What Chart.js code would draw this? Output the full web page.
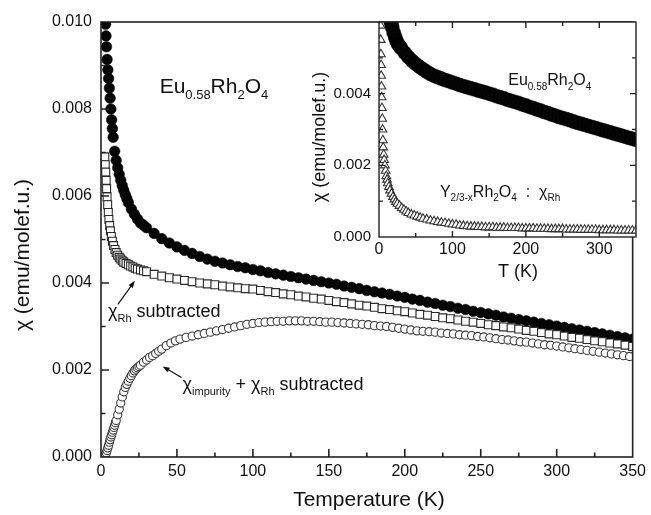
<!DOCTYPE html>
<html><head><meta charset="utf-8">
<script src="https://cdn.jsdelivr.net/npm/chart.js@4"></script>
<style>
html,body{margin:0;padding:0;background:#fff;}
#wrap{position:relative;width:651px;height:515px;background:#fff;}
#main{position:absolute;left:0;top:0;}
#inset{position:absolute;left:300px;top:0;}
</style></head><body>
<div id="wrap"><canvas id="main" width="651" height="515"></canvas><canvas id="inset" width="351" height="290"></canvas></div>
<script>
const FONT = '"Liberation Sans", Arial, Helvetica, sans-serif';

// ---- Eu0.58Rh2O4 (filled circles) ----
const euT = [3,3.3,3.6,4,4.5,5,5.5,6,6.5,7,7.5,8,9,10,11,12,13,14,15,16,17,18,20,22,24,26,28,30,
  35,40,45,50,55,60,65,70,75,80,85,90,95,100,105,110,115,120,125,130,135,140,145,150,155,160,165,170,175,180,
  185,190,195,200,205,210,215,220,225,230,235,240,245,250,255,260,265,270,275,280,285,290,295,300,305,310,315,320,
  325,330,335,340,345,350];
const euChi = [0.00995,0.00968,0.00943,0.00914,0.0089,0.0087,0.00848,0.00825,0.008,0.00775,0.00755,0.00735,0.00703,0.00682,0.00665,0.0065,0.00636,0.00624,0.00613,0.00603,0.00594,0.00585,0.0057,0.00558,0.00547,0.00538,0.00533,0.00527,
  0.00514,0.00502,0.00492,0.00483,0.00475,0.00468,0.00461,0.00455,0.0045,0.00446,0.00442,0.00438,0.00435,0.00431,0.00428,0.00424,0.00421,0.00418,0.00415,0.00412,0.00409,0.00406,0.00403,0.004,0.00397,0.00393,0.0039,0.00387,0.00383,0.0038,
  0.00377,0.00374,0.0037,0.00367,0.00363,0.0036,0.00356,0.00353,0.00349,0.00346,0.00342,0.00339,0.00335,0.00332,0.00329,0.00326,0.00322,0.00319,0.00316,0.00313,0.0031,0.00307,0.00304,0.00301,0.00298,0.00295,0.00292,0.00289,
  0.00286,0.00283,0.0028,0.00277,0.00274,0.00271];

// ---- chi_Rh subtracted (open squares) ----
const rhSubT = [2.5,2.8,3.1,3.4,3.7,4.0,4.4,4.8,5.2,5.7,6.2,6.8,7.5,8.3,9.2,10,11,12,13,14,15,16.5,18,19.5,21,22.5,24,26,28,30,
  35,40,45,50,55,60,65,70,75,80,85,90,95,100,105,110,115,120,125,130,135,140,145,150,155,160,165,170,175,180,
  185,190,195,200,205,210,215,220,225,230,235,240,245,250,255,260,265,270,275,280,285,290,295,300,305,310,315,320,
  325,330,335,340,345,350];
const rhSubChi = [0.0069,0.00672,0.00655,0.00636,0.00617,0.00598,0.0058,0.00562,0.00546,0.00532,0.0052,0.00507,0.00496,0.00486,0.00477,0.0047,0.00464,0.00459,0.00455,0.00451,0.00448,0.00445,0.00442,0.00439,0.00437,0.00434,0.00432,0.0043,0.00428,0.00426,
  0.0042,0.00416,0.00412,0.00409,0.00406,0.00403,0.004,0.00398,0.00396,0.00393,0.00391,0.00389,0.00387,0.00386,0.00383,0.0038,0.00378,0.00375,0.00373,0.0037,0.00368,0.00365,0.00363,0.0036,0.00357,0.00355,0.00352,0.00349,0.00347,0.00344,
  0.00341,0.00339,0.00336,0.00334,0.00331,0.00328,0.00326,0.00323,0.0032,0.00318,0.00315,0.00312,0.0031,0.00307,0.00304,0.00302,0.00299,0.00297,0.00294,0.00291,0.00289,0.00286,0.00283,0.00281,0.00278,0.00275,0.00273,0.0027,
  0.00267,0.00265,0.00262,0.0026,0.00257,0.00254];

// ---- chi_impurity + chi_Rh subtracted (open circles) ----
const impSubT = [2,2.5,3,3.5,4,4.5,5,5.5,6,6.5,7,7.5,8,8.5,9,9.5,10,11,12,13,14,15,16,17,18,19,20,21,22,23,24,25,26,28,30,32,34,36,38,40,43,46,49,52,56,60,64,68,72,76,
  80,84,88,92,96,100,104,108,112,116,120,124,128,132,136,140,144,148,152,156,160,164,168,172,176,180,184,188,192,196,200,204,
  208,212,216,220,224,228,232,236,240,244,248,252,256,260,264,268,272,276,280,284,288,292,296,300,304,308,312,316,320,324,328,332,336,340,344,348];
const impSubChi = [0,0.00002,0.00006,0.0001,0.00015,0.00021,0.00027,0.00034,0.0004,0.00046,0.00051,0.00057,0.00062,0.00068,0.00073,0.00079,0.00084,0.00097,0.0011,0.00124,0.00138,0.0015,0.0016,0.00167,0.00174,0.00181,0.00187,0.00193,0.00198,0.00202,0.00205,0.00208,0.00211,0.00218,0.00223,0.00229,0.00233,0.00238,0.00243,0.00248,0.00256,0.00262,0.00267,0.00271,0.00275,0.00278,0.00281,0.00284,0.00287,0.0029,
  0.00293,0.00296,0.00299,0.00302,0.00305,0.00307,0.00309,0.0031,0.00311,0.00312,0.00312,0.00313,0.00313,0.00313,0.00312,0.00312,0.00311,0.0031,0.0031,0.00309,0.00308,0.00307,0.00306,0.00305,0.00304,0.00302,0.00301,0.003,0.00298,0.00296,0.00294,0.00292,
  0.0029,0.00289,0.00288,0.00287,0.00285,0.00284,0.00283,0.00281,0.0028,0.00279,0.00277,0.00276,0.00274,0.00272,0.0027,0.00269,0.00267,0.00265,0.00264,0.00262,0.0026,0.00258,0.00257,0.00255,0.00253,0.00251,0.00249,0.00247,0.00245,0.00243,0.00241,0.00239,0.00237,0.00235,0.00233,0.00231];

// ---- inset: Y2/3-xRh2O4 : chi_Rh (open triangles) ----
const yRhT = [2,2.2,2.4,2.6,2.8,3.0,3.3,3.6,4.0,4.4,4.8,5.3,5.8,6.4,7,8,9,10,11,12,13.5,15,17,19,21,23,25,28,31,34,37,40,44,48,52,56,60,65,70,75,80,
  85,90,95,100,105,110,115,120,125,130,135,140,145,150,155,160,165,170,175,180,185,190,195,200,205,210,215,220,225,230,235,240,245,250,
  255,260,265,270,275,280,285,290,295,300,305,310,315,320,325,330,335,340,345,350];
const yRhChi = [0.0066,0.0059,0.0055,0.0051,0.0048,0.0045,0.0042,0.0039,0.0036,0.0033,0.003,0.0027,0.0025,0.0023,0.00215,0.002,0.00185,0.0017,0.0016,0.0015,0.0014,0.0013,0.00121,0.00112,0.00105,0.00098,0.00093,0.00087,0.00081,0.00076,0.00071,0.00067,0.00063,0.0006,0.00057,0.00054,0.00051,0.00049,0.00046,0.00044,0.00042,
  0.0004,0.00039,0.00037,0.00035,0.00034,0.00032,0.00031,0.0003,0.00029,0.00029,0.00028,0.00028,0.00027,0.00027,0.00027,0.00026,0.00026,0.00026,0.00025,0.00025,0.00025,0.00025,0.00024,0.00024,0.00024,0.00024,0.00023,0.00023,0.00023,0.00023,0.00022,0.00022,0.00022,0.00022,
  0.00021,0.00021,0.00021,0.00021,0.0002,0.0002,0.0002,0.0002,0.0002,0.00019,0.00019,0.00019,0.00019,0.00019,0.00018,0.00018,0.00018,0.00018,0.00018,0.00018];

// ---- axis ticks ----
const mainXMajor = [0,50,100,150,200,250,300,350];
const mainYMajor = [0,0.002,0.004,0.006,0.008,0.010];
const insetXMajor = [0,100,200,300];
const insetYMajor = [0,0.002,0.004];

const pts = (xs, ys) => xs.map((x, i) => ({x: x, y: ys[i]}));
const inList = (v, list) => list.some(m => Math.abs(m - v) < 1e-9);

function rich(ctx, x, y, parts, size) {
  let cx = x;
  parts.forEach(p => {
    const sub = p[1] === 1;
    const fs = sub ? Math.round(size * 0.62) : size;
    ctx.font = fs + 'px ' + FONT;
    ctx.fillText(p[0], cx, y + (sub ? size * 0.28 : 0));
    cx += ctx.measureText(p[0]).width;
  });
}

function arrow(ctx, x1, y1, x2, y2) {
  const ang = Math.atan2(y2 - y1, x2 - x1);
  const L = 7, W = 2.6;
  ctx.beginPath();
  ctx.moveTo(x1, y1);
  ctx.lineTo(x2 - Math.cos(ang) * L * 0.8, y2 - Math.sin(ang) * L * 0.8);
  ctx.stroke();
  ctx.beginPath();
  ctx.moveTo(x2, y2);
  ctx.lineTo(x2 - Math.cos(ang) * L - Math.sin(ang) * W, y2 - Math.sin(ang) * L + Math.cos(ang) * W);
  ctx.lineTo(x2 - Math.cos(ang) * L + Math.sin(ang) * W, y2 - Math.sin(ang) * L - Math.cos(ang) * W);
  ctx.closePath();
  ctx.fill();
}

const frameTicks = {
  id: 'frameTicks',
  beforeDatasetsDraw(chart, args, o) {
    const {ctx, chartArea: a} = chart;
    ctx.save();
    ctx.fillStyle = '#fff';
    ctx.fillRect(a.left, a.top, a.right - a.left, a.bottom - a.top);
    ctx.restore();
  },
  afterDraw(chart, args, o) {
    const {ctx, chartArea: a} = chart;
    const xs = chart.scales.x, ys = chart.scales.y;
    ctx.save();
    ctx.strokeStyle = '#222';
    ctx.lineWidth = o.lw;
    ctx.beginPath();
    xs.ticks.forEach(t => {
      const p = xs.getPixelForValue(t.value);
      const len = inList(t.value, o.xMajor) ? o.majorLen : o.minorLen;
      if (p <= a.left + 1 || p >= a.right - 1) return;
      ctx.moveTo(p, a.bottom); ctx.lineTo(p, a.bottom - len);
      if (o.mirror) { ctx.moveTo(p, a.top); ctx.lineTo(p, a.top + len); }
    });
    ys.ticks.forEach(t => {
      const p = ys.getPixelForValue(t.value);
      const len = Math.abs(t.value / o.yMajorStep - Math.round(t.value / o.yMajorStep)) < 1e-6 ? o.majorLen : o.minorLen;
      if (p <= a.top + 1 || p >= a.bottom - 1) return;
      ctx.moveTo(a.left, p); ctx.lineTo(a.left + len, p);
      if (o.mirror) { ctx.moveTo(a.right, p); ctx.lineTo(a.right - len, p); }
    });
    ctx.stroke();
    ctx.strokeRect(a.left, a.top, a.right - a.left, a.bottom - a.top);
    // annotations
    ctx.fillStyle = '#111';
    ctx.strokeStyle = '#111';
    ctx.lineWidth = 1.2;
    ctx.textBaseline = 'alphabetic';
    ctx.textAlign = 'left';
    (o.notes || []).forEach(n => {
      rich(ctx, xs.getPixelForValue(n.T), ys.getPixelForValue(n.chi), n.parts, n.size);
    });
    (o.arrows || []).forEach(ar => {
      arrow(ctx, xs.getPixelForValue(ar.from[0]), ys.getPixelForValue(ar.from[1]),
                 xs.getPixelForValue(ar.to[0]), ys.getPixelForValue(ar.to[1]));
    });
    // axis titles
    ctx.textAlign = 'center';
    ctx.textBaseline = 'middle';
    (o.titles || []).forEach(t => {
      ctx.save();
      ctx.translate(t.x, t.y);
      ctx.rotate(t.rot || 0);
      ctx.font = t.size + 'px ' + FONT;
      ctx.fillText(t.text, 0, 0);
      ctx.restore();
    });
    ctx.restore();
  }
};
Chart.register(frameTicks);

function tickFont(size) { return {family: FONT, size: size}; }

// ---------- main chart ----------
new Chart(document.getElementById('main'), {
  type: 'scatter',
  data: {
    datasets: [
      {data: pts(impSubT, impSubChi), pointStyle: 'circle', pointRadius: 4.1, pointBorderWidth: 1.1,
       pointBorderColor: '#3a3a3a', pointBackgroundColor: '#fff'},
      {data: pts(rhSubT, rhSubChi), pointStyle: 'rect', pointRadius: 5.6, pointBorderWidth: 1.1,
       pointBorderColor: '#2a2a2a', pointBackgroundColor: '#fff'},
      {data: pts(euT, euChi), pointStyle: 'circle', pointRadius: 5.3, pointBorderWidth: 0.5,
       pointBorderColor: '#000', pointBackgroundColor: '#050505'}
    ]
  },
  options: {
    responsive: false, animation: false, devicePixelRatio: 1,
    layout: {padding: {top: 22, right: 15, left: 0, bottom: 0}},
    plugins: {
      legend: {display: false}, tooltip: {enabled: false},
      frameTicks: {
        lw: 1.6, majorLen: 8, minorLen: 4.5, mirror: false,
        xMajor: mainXMajor, yMajorStep: 0.002,
        notes: [
          {T: 38.6, chi: 0.00837, size: 21, parts: [['Eu'], ['0.58', 1], ['Rh'], ['2', 1], ['O'], ['4', 1]]},
          {T: 4.6, chi: 0.00321, size: 18, parts: [['χ'], ['Rh', 1], [' subtracted']]},
          {T: 53.7, chi: 0.00155, size: 18, parts: [['χ'], ['impurity', 1], [' + χ'], ['Rh', 1], [' subtracted']]}
        ],
        arrows: [
          {from: [11.1, 0.00351], to: [22.3, 0.00405]},
          {from: [53, 0.00183], to: [40.6, 0.00208]}
        ],
        titles: [
          {text: 'Temperature (K)', x: 369, y: 500, size: 21},
          {text: 'χ (emu/molef.u.)', x: 23, y: 255, size: 21, rot: -Math.PI / 2}
        ]
      }
    },
    scales: {
      x: {
        type: 'linear', min: 0, max: 350,
        grid: {display: false, drawTicks: false}, border: {display: false},
        ticks: {stepSize: 25, autoSkip: false, maxRotation: 0, padding: 5, color: '#111', font: tickFont(16),
                callback: v => inList(v, mainXMajor) ? String(v) : ''},
        afterFit: s => { s.height = 58; }
      },
      y: {
        type: 'linear', min: 0, max: 0.01,
        grid: {display: false, drawTicks: false}, border: {display: false},
        ticks: {stepSize: 0.001, autoSkip: false, padding: 9, color: '#111', font: tickFont(16),
                callback: v => inList(v, mainYMajor) ? v.toFixed(3) : ''},
        afterFit: s => { s.width = 101; }
      }
    }
  }
});

// ---------- inset chart ----------
new Chart(document.getElementById('inset'), {
  type: 'scatter',
  data: {
    datasets: [
      {data: pts(yRhT, yRhChi), pointStyle: 'triangle', pointRadius: 5, pointBorderWidth: 1.1,
       pointBorderColor: '#333', pointBackgroundColor: '#fff'},
      {data: pts(euT, euChi), pointStyle: 'circle', pointRadius: 7, pointBorderWidth: 0.5,
       pointBorderColor: '#000', pointBackgroundColor: '#050505'}
    ]
  },
  options: {
    responsive: false, animation: false, devicePixelRatio: 1,
    layout: {padding: {top: 22, right: 15, left: 0, bottom: 0}},
    plugins: {
      legend: {display: false}, tooltip: {enabled: false},
      frameTicks: {
        lw: 1.4, majorLen: 6, minorLen: 4, mirror: true,
        xMajor: insetXMajor, yMajorStep: 0.002,
        notes: [
          {T: 176, chi: 0.00424, size: 16, parts: [['Eu'], ['0.58', 1], ['Rh'], ['2', 1], ['O'], ['4', 1]]},
          {T: 83, chi: 0.00112, size: 16, parts: [['Y'], ['2/3-x', 1], ['Rh'], ['2', 1], ['O'], ['4', 1], ['  :  χ'], ['Rh', 1]]}
        ],
        titles: [
          {text: 'T (K)', x: 218, y: 272, size: 18},
          {text: 'χ (emu/molef.u.)', x: 20, y: 137, size: 18, rot: -Math.PI / 2}
        ]
      }
    },
    scales: {
      x: {
        type: 'linear', min: 0, max: 350,
        grid: {display: false, drawTicks: false}, border: {display: false},
        ticks: {stepSize: 50, autoSkip: false, maxRotation: 0, padding: 3, color: '#111', font: tickFont(16),
                callback: v => inList(v, insetXMajor) ? String(v) : ''},
        afterFit: s => { s.height = 53; }
      },
      y: {
        type: 'linear', min: 0, max: 0.006,
        grid: {display: false, drawTicks: false}, border: {display: false},
        ticks: {stepSize: 0.001, autoSkip: false, padding: 8, color: '#111', font: tickFont(15),
                callback: v => inList(v, insetYMajor) ? v.toFixed(3) : ''},
        afterFit: s => { s.width = 79; }
      }
    }
  }
});
</script>
</body></html>
